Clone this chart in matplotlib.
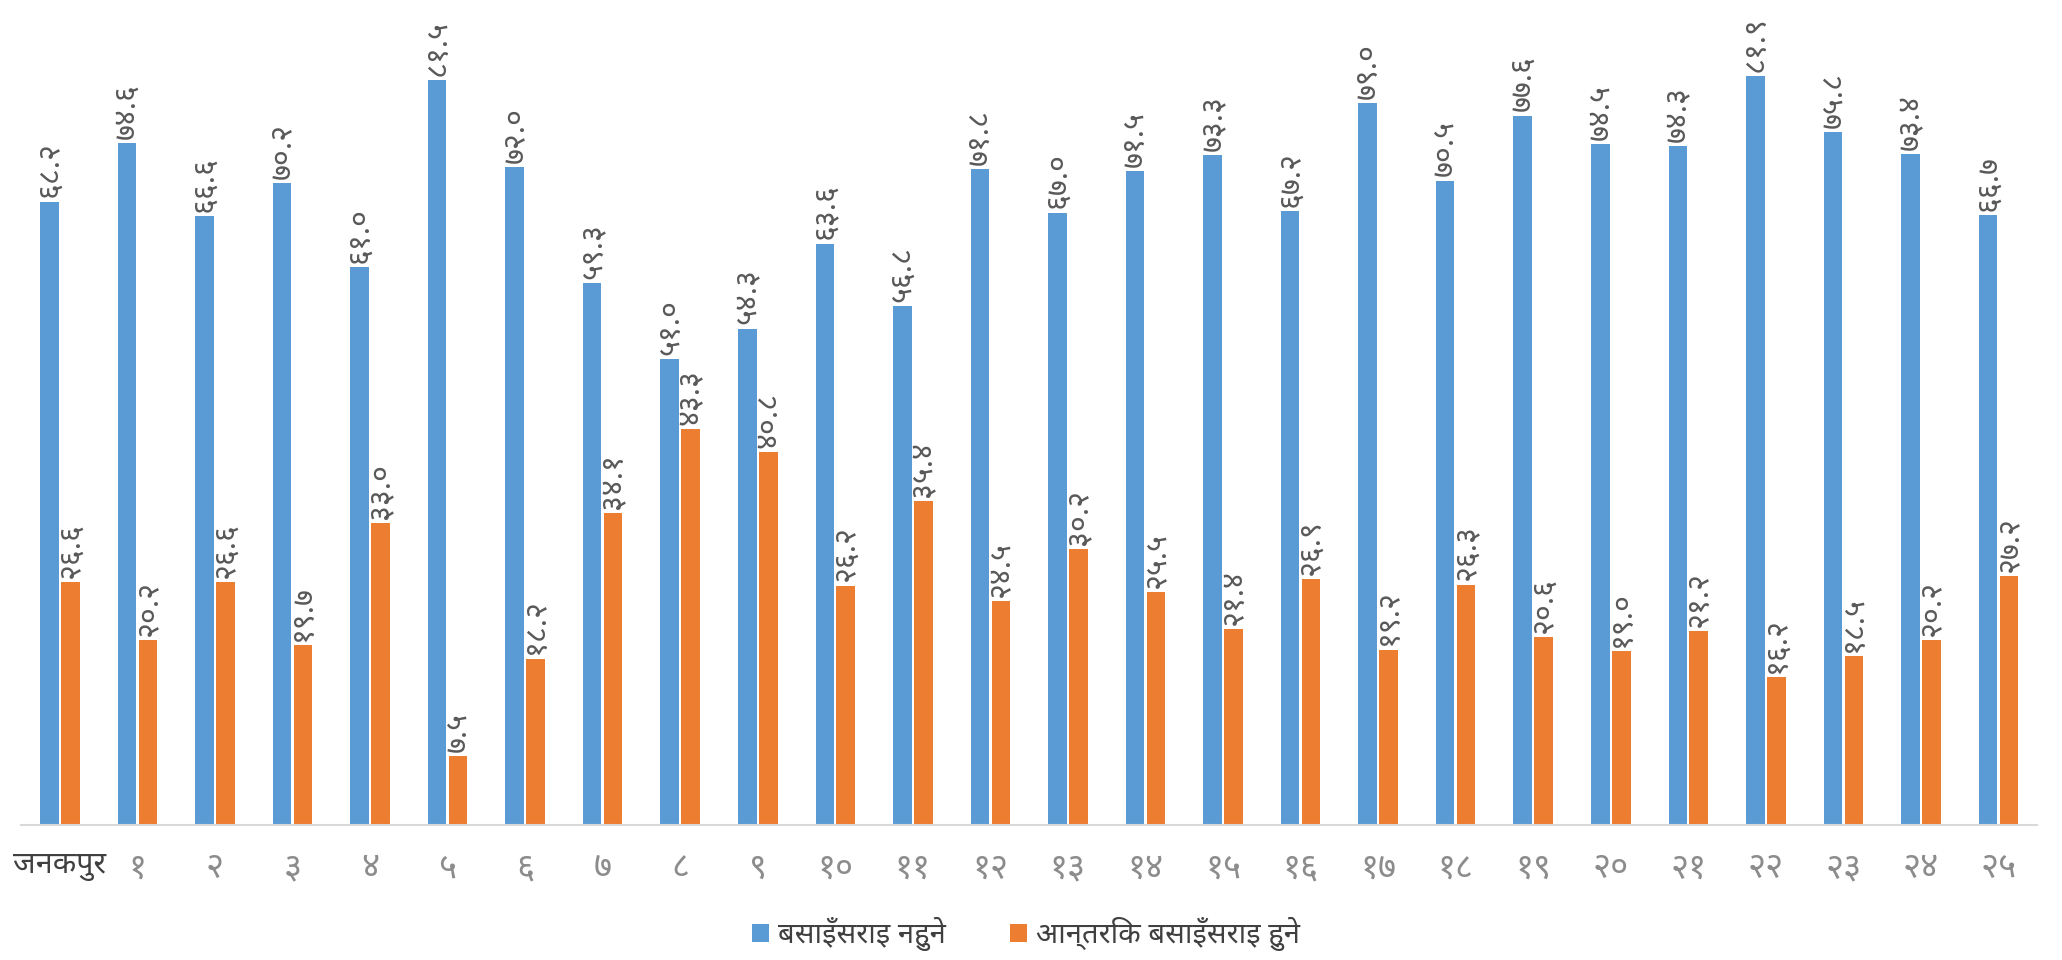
import matplotlib
matplotlib.use("Agg")
import matplotlib.pyplot as plt
import numpy as np

plt.rcParams["font.family"] = ["Noto Sans Devanagari", "Noto Sans", "DejaVu Sans"]

# ward labels (municipality + wards 1-25)
categories = ["जनकपुर", "१", "२", "३", "४", "५", "६", "७", "८", "९", "१०", "११", "१२",
              "१३", "१४", "१५", "१६", "१७", "१८", "१९", "२०", "२१", "२२", "२३", "२४", "२५"]
series_names = ["बसाइँसराइ नहुने", "आन्तरिक बसाइँसराइ हुने"]
no_migration = [68.2, 74.6, 66.6, 70.2, 61.0, 81.5, 72.0, 59.3, 51.0, 54.3, 63.6, 56.8, 71.8,
                67.0, 71.5, 73.3, 67.2, 79.0, 70.5, 77.6, 74.5, 74.3, 81.9, 75.8, 73.4, 66.7]
internal_migration = [26.6, 20.2, 26.6, 19.7, 33.0, 7.5, 18.2, 34.1, 43.3, 40.8, 26.2, 35.4, 24.5,
                      30.2, 25.5, 21.4, 26.9, 19.2, 26.3, 20.6, 19.0, 21.2, 16.2, 18.5, 20.2, 27.2]

DEVA_DIGITS = str.maketrans("0123456789", "०१२३४५६७८९")
colors = ["#5B9BD5", "#ED7D31"]


def deva(value):
    return f"{value:.1f}".translate(DEVA_DIGITS)


fig = plt.figure(figsize=(20.62, 9.6), dpi=100)
ax = fig.add_axes([0.0102, 0.1406, 0.9778, 0.857])

x = np.arange(len(categories))
width = 0.24
offset = 0.135
for values, name, color, shift in zip([no_migration, internal_migration], series_names,
                                      colors, [-offset, offset]):
    bars = ax.bar(x + shift, values, width, color=color, label=name)
    for bar, value in zip(bars, values):
        ax.annotate(deva(value), (bar.get_x() + bar.get_width() / 2, bar.get_height()),
                    xytext=(0, 3), textcoords="offset points", rotation=90,
                    ha="center", va="bottom", fontsize=22, color="#595959",
                    fontweight="light")

ax.set_xlim(-0.5, len(categories) - 0.5)
ax.set_ylim(0, 90)
ax.set_yticks([])
ax.set_xticks(x)
ax.set_xticklabels(categories, fontsize=25, color="#8c8c8c", fontweight="light")
ax.get_xticklabels()[0].set_color("#404040")
ax.get_xticklabels()[0].set_fontweight("medium")
ax.get_xticklabels()[0].set_fontsize(22)
ax.tick_params(axis="x", length=0, pad=19)
for side in ["top", "left", "right"]:
    ax.spines[side].set_visible(False)
ax.spines["bottom"].set_color("#d9d9d9")
ax.spines["bottom"].set_linewidth(1.5)

fig.legend(loc="center", bbox_to_anchor=(0.4975, 0.027), ncol=2, frameon=False,
           fontsize=21, labelcolor="#404040", handlelength=0.6, handleheight=0.6,
           handletextpad=0.3, columnspacing=2.2)

fig.savefig("out.png", dpi=100)
